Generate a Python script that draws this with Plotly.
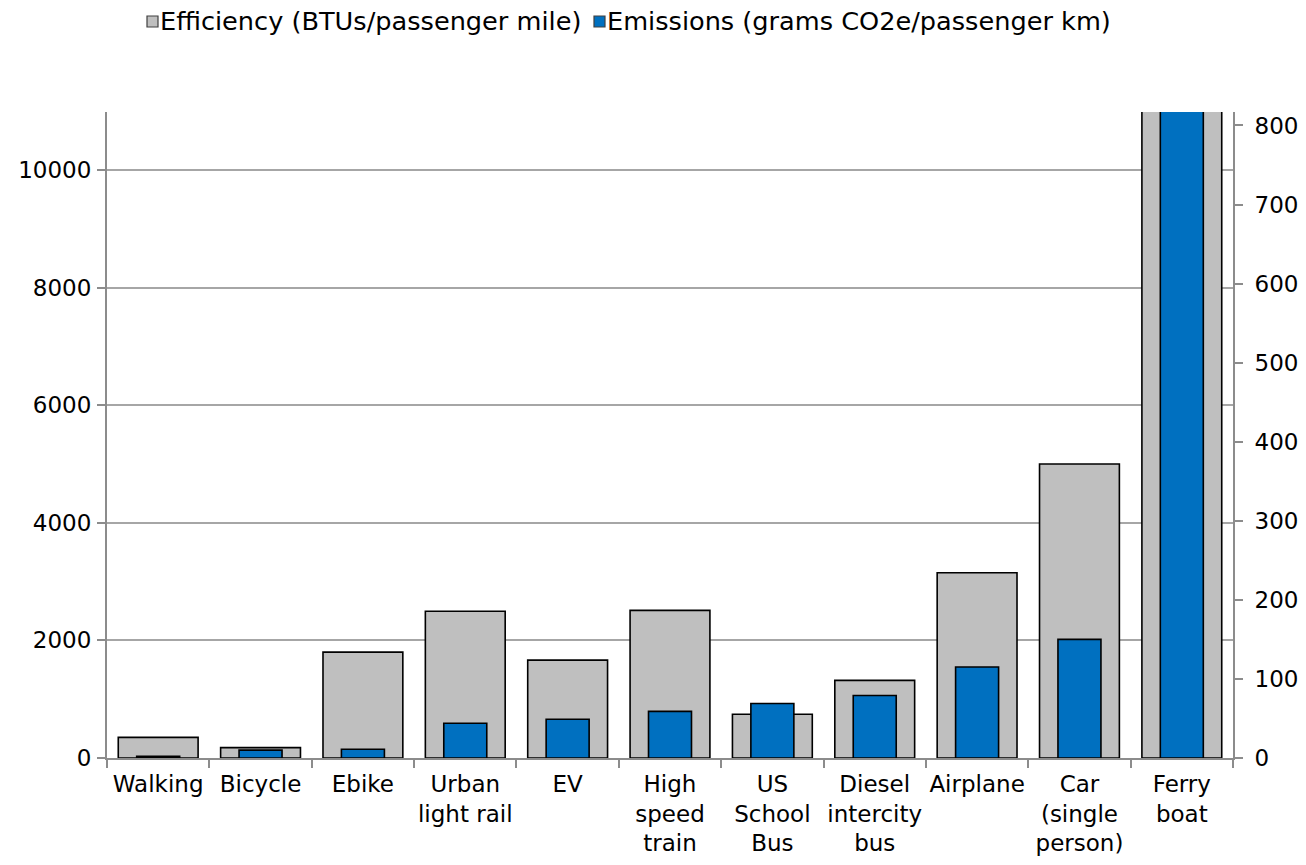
import plotly.graph_objects as go

# Transport modes and their efficiency / emissions figures
modes = [
    "Walking", "Bicycle", "Ebike", "Urban<br>light rail", "EV",
    "High<br>speed<br>train", "US<br>School<br>Bus", "Diesel<br>intercity<br>bus",
    "Airplane", "Car<br>(single<br>person)", "Ferry<br>boat",
]
efficiency_btu_per_mile = [350, 176, 1800, 2495, 1665, 2510, 745, 1320, 3150, 5000, 12000]
emissions_g_per_km = [2, 10, 11, 44, 49, 59, 69, 79, 115, 150, 900]

left_ticks = [0, 2000, 4000, 6000, 8000, 10000]
right_ticks = [0, 100, 200, 300, 400, 500, 600, 700, 800]

series_names = ["Efficiency (BTUs/passenger mile)", "Emissions (grams CO2e/passenger km)"]
series_colors = ["#bfbfbf", "#0070c0"]

FONT = "DejaVu Sans, Arial, sans-serif"
AXIS_GREY = "#8c8c8c"
TICK_SIZE = 23
LEGEND_SIZE = 25.6

# plot-area geometry in pixels (used to place the key above the chart)
W, H = 1306, 865
ML, MR, MT, MB = 107, 73, 112, 107
PW, PH = W - ML - MR, H - MT - MB


def px_x(px):
    return (px - ML) / PW


def px_y(py):
    return (H - MB - py) / PH


fig = go.Figure()
fig.add_trace(go.Bar(
    x=modes, y=efficiency_btu_per_mile, name=series_names[0],
    marker=dict(color=series_colors[0], line=dict(color="#000000", width=1.6)),
    width=0.78, yaxis="y",
))
fig.add_trace(go.Bar(
    x=modes, y=emissions_g_per_km, name=series_names[1],
    marker=dict(color=series_colors[1], line=dict(color="#000000", width=1.6)),
    width=0.42, yaxis="y2",
))

# key: small swatch directly followed by the series name
key_left = [147, 594]
for name, color, left in zip(series_names, series_colors, key_left):
    fig.add_shape(
        type="rect", xref="paper", yref="paper",
        x0=px_x(left), x1=px_x(left + 11), y0=px_y(27), y1=px_y(16),
        fillcolor=color, line=dict(color="#404040", width=1.2),
    )
    fig.add_annotation(
        text=name, xref="paper", yref="paper",
        x=px_x(left + 11), xanchor="left", y=px_y(21), yanchor="middle",
        showarrow=False, font=dict(family=FONT, size=LEGEND_SIZE, color="#000000"),
    )

fig.update_layout(
    width=W, height=H,
    margin=dict(l=ML, r=MR, t=MT, b=MB, autoexpand=False),
    paper_bgcolor="white", plot_bgcolor="white",
    barmode="overlay",
    font=dict(family=FONT, size=TICK_SIZE, color="#000000"),
    showlegend=False,
    xaxis=dict(
        showline=True, linecolor=AXIS_GREY, linewidth=2, tickangle=0, automargin=False,
        ticks="outside", tickson="boundaries", ticklen=8, tickwidth=2, tickcolor=AXIS_GREY,
        showgrid=False, tickfont=dict(size=TICK_SIZE), ticklabelstandoff=4,
    ),
    yaxis=dict(
        range=[0, 10987], tickvals=left_ticks, tickformat="d", automargin=False,
        showline=True, linecolor=AXIS_GREY, linewidth=2,
        ticks="outside", ticklen=8, tickwidth=2, tickcolor=AXIS_GREY,
        showgrid=True, gridcolor="#a6a6a6", gridwidth=2,
        zeroline=False, tickfont=dict(size=TICK_SIZE), ticklabelstandoff=1,
    ),
    yaxis2=dict(
        range=[0, 817], tickvals=right_ticks, overlaying="y", side="right", automargin=False,
        showline=True, linecolor=AXIS_GREY, linewidth=2,
        ticks="outside", ticklen=8, tickwidth=2, tickcolor=AXIS_GREY,
        showgrid=False, zeroline=False, tickfont=dict(size=TICK_SIZE), ticklabelstandoff=7,
    ),
)

fig.write_html("out.html")
